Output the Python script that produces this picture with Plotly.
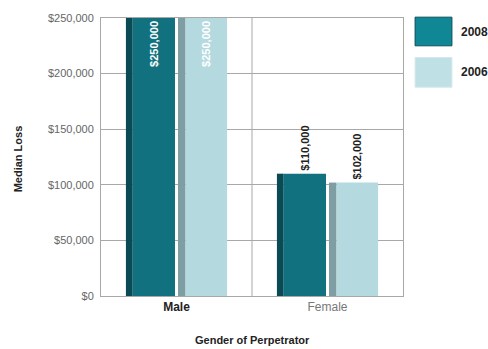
import plotly.graph_objects as go

# Median loss by gender of perpetrator, 2008 vs 2006
genders = ["Male", "Female"]
loss_2008 = [250000, 110000]
loss_2006 = [250000, 102000]
labels_2008 = ["$250,000", "$110,000"]
labels_2006 = ["$250,000", "$102,000"]
years = ["2008", "2006"]
y_ticks = [0, 50000, 100000, 150000, 200000, 250000]
y_tick_text = ["$0", "$50,000", "$100,000", "$150,000", "$200,000", "$250,000"]

x_pos = list(range(len(genders)))

FRONT_2008 = "#11717e"
SIDE_2008 = "#0a4a54"
FRONT_2006 = "#b4d9df"
SIDE_2006 = "#7e9ea3"
GRID = "#a8a8a8"
NARROW = "Liberation Sans Narrow, Arial Narrow, Liberation Sans, Arial"
SANS = "Liberation Sans, Arial, sans-serif"

fig = go.Figure()


def add_bar(values, labels, front, side, side_offset, side_width, front_width):
    # shaded side face of the block
    fig.add_trace(go.Bar(
        x=x_pos, y=values, offset=side_offset, width=side_width,
        marker=dict(color=side, line=dict(width=0)),
        hoverinfo="skip", showlegend=False,
    ))
    # front face with value labels
    positions = ["inside" if v > 200000 else "outside" for v in values]
    fig.add_trace(go.Bar(
        x=x_pos, y=values, offset=side_offset + side_width, width=front_width,
        marker=dict(color=front, line=dict(width=0)),
        text=[f"<b>{t}</b>" for t in labels], textposition=positions, textangle=-90,
        insidetextanchor="end", constraintext="none", cliponaxis=False,
        insidetextfont=dict(family=SANS, size=11, color="white"),
        outsidetextfont=dict(family=SANS, size=11, color="#222222"),
        showlegend=False,
    ))


add_bar(loss_2008, labels_2008, FRONT_2008, SIDE_2008, -0.335, 0.045, 0.28)
add_bar(loss_2006, labels_2006, FRONT_2006, SIDE_2006, 0.01, 0.05, 0.275)

shapes = [
    # divider between the two gender groups
    dict(type="line", xref="x", yref="paper", x0=0.5, x1=0.5, y0=0, y1=1,
         line=dict(color=GRID, width=1), layer="below"),
    # legend swatches
    dict(type="rect", xref="paper", yref="paper", x0=1.040, x1=1.162, y0=0.900, y1=1.003,
         fillcolor="#0f8795", line=dict(color="#0a4f58", width=1)),
    dict(type="rect", xref="paper", yref="paper", x0=1.040, x1=1.162, y0=0.751, y1=0.858,
         fillcolor="#bfe0e5", line=dict(color="#d5e9ec", width=1)),
]

annotations = [
    dict(text="<b>2008</b>", xref="paper", yref="paper", x=1.185, y=0.951,
         xanchor="left", yanchor="middle", showarrow=False,
         font=dict(family=NARROW, size=12, color="#222222")),
    dict(text="<b>2006</b>", xref="paper", yref="paper", x=1.185, y=0.805,
         xanchor="left", yanchor="middle", showarrow=False,
         font=dict(family=NARROW, size=12, color="#222222")),
    dict(text="<b>Median Loss</b>", xref="paper", yref="paper", x=-0.275, y=0.495,
         textangle=-90, xanchor="center", yanchor="middle", showarrow=False,
         font=dict(family=NARROW, size=11, color="#222222")),
    dict(text="<b>Gender of Perpetrator</b>", xref="paper", yref="paper", x=0.5, y=-0.157,
         xanchor="center", yanchor="middle", showarrow=False,
         font=dict(family=NARROW, size=11, color="#222222")),
]

fig.update_layout(
    width=488, height=349,
    margin=dict(l=101, r=85, t=15, b=53),
    paper_bgcolor="white", plot_bgcolor="white",
    barmode="overlay",
    shapes=shapes, annotations=annotations,
    xaxis=dict(
        range=[-0.5, 1.5], tickvals=x_pos,
        ticktext=["<b>Male</b>", "<span style='color:#777777'>Female</span>"],
        tickfont=dict(family=SANS, size=12, color="#222222"),
        showgrid=False, zeroline=False,
        showline=True, linecolor=GRID, linewidth=1, mirror=True,
        ticks="", fixedrange=True,
    ),
    yaxis=dict(
        range=[0, 250000], tickvals=y_ticks, ticktext=y_tick_text,
        tickfont=dict(family=SANS, size=11, color="#666666"),
        showgrid=True, gridcolor=GRID, gridwidth=1, zeroline=False,
        showline=True, linecolor=GRID, linewidth=1, mirror=True,
        ticks="", ticklabelstandoff=4, fixedrange=True,
    ),
)

fig.write_html("out.html")
